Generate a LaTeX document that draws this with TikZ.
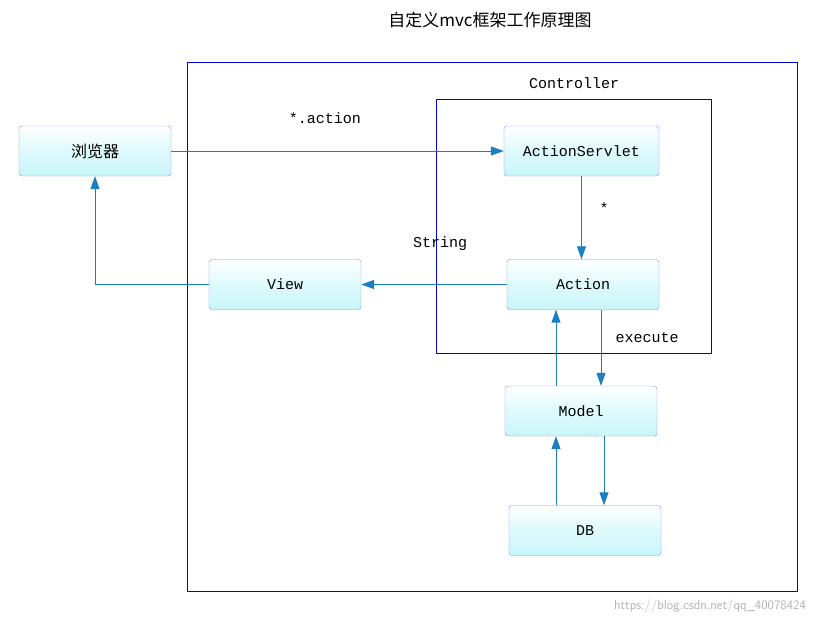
\documentclass[tikz,border=0pt]{standalone}
\usepackage{fontspec}
\setmonofont{Liberation Mono}
\newfontfamily\cjk{Noto Sans CJK SC}
\usetikzlibrary{arrows.meta,positioning,calc}
\definecolor{flowblue}{HTML}{1A7FC0}
\definecolor{boxline}{HTML}{8C8CF0}
\definecolor{boxfill}{HTML}{C8F6FA}
\tikzset{
  >={Triangle[length=13pt,width=9pt]},
  every node/.append style={font=\ttfamily\fontsize{15}{17}\selectfont},
}
\tikzset{
  box/.style={draw=boxline, rounded corners=3pt, minimum width=152pt, minimum height=50pt,
              top color=white, bottom color=boxfill, middle color=boxfill!60, inner sep=0pt},
  arrow/.style={->, draw=flowblue, line width=1pt},
  frame/.style={draw=blue!85!black, line width=1pt}
}
\begin{document}
\begin{tikzpicture}[x=1pt,y=-1pt]
\useasboundingbox (0,0) rectangle (840,624);

% Frames
\draw[frame] (187,62) rectangle (797,591);
\draw[frame] (436,99) rectangle (711,353);
\node[font=\cjk\fontsize{17}{19}\selectfont] (title) at (490,20) {自定义mvc框架工作原理图};
\node (ctrl) at (574,83) {Controller};

% Boxes
\node[box, font=\cjk\fontsize{16}{18}\selectfont] (browser) at (95,151) {浏览器};
\node[box, minimum width=155pt] (servlet) at (581.5,151) {ActionServlet};
\node[box] (action) at (583,284.5) {Action};
\node[box] (view) at (285,284.5) {View};
\node[box] (model) at (581,411) {Model};
\node[box] (db) at (585,530.5) {DB};

% Flow arrows
\draw[arrow] (browser.east) -- (servlet.west);
\draw[arrow] (servlet.south) -- (servlet.south |- action.north);
\draw[arrow] (action.west) -- (view.east);
\draw[arrow] (view.west) -| (browser.south);
\draw[arrow] (action.south -| 601,0) -- (model.north -| 601,0);
\draw[arrow] (model.north -| 556,0) -- (action.south -| 556,0);
\draw[arrow] (model.south -| 604,0) -- (db.north -| 604,0);
\draw[arrow] (db.north -| 556,0) -- (model.south -| 556,0);

% Labels
\node (lact) at (325,118) {*.action};
\node (lstar) at (604,208) {*};
\node (lstr) at (440,244) {String};
\node (lexec) at (647,338) {execute};
\node[font=\sffamily\fontsize{13}{15}\selectfont, text=gray!60] (mark) at (710,606) {https://blog.csdn.net/qq\_40078424};
\end{tikzpicture}
\end{document}
